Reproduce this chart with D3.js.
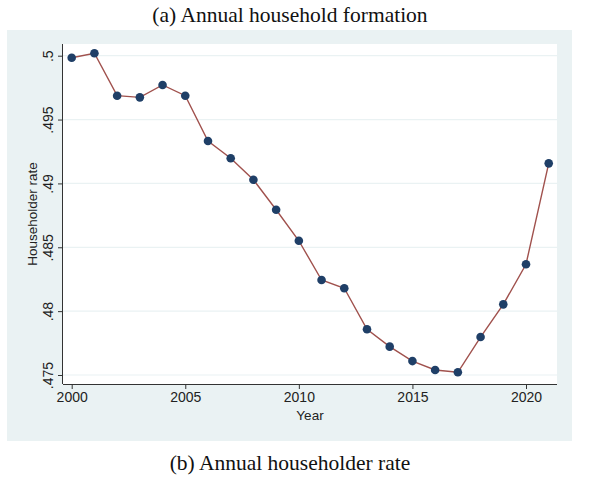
<!DOCTYPE html>
<html>
<head>
<meta charset="utf-8">
<script src="https://cdn.jsdelivr.net/npm/d3@7"></script>
<style>
  body { margin: 0; background: #fff; }
</style>
</head>
<body>
<div id="container"></div>
<script>
// years and householder rate
const years = [2000, 2001, 2002, 2003, 2004, 2005, 2006, 2007, 2008, 2009, 2010,
  2011, 2012, 2013, 2014, 2015, 2016, 2017, 2018, 2019, 2020, 2021];
const rates = [0.49984, 0.50019, 0.49687, 0.49674, 0.49771, 0.49687, 0.49332, 0.49197,
  0.49029, 0.48794, 0.48551, 0.48244, 0.48179, 0.47858, 0.47722, 0.47609, 0.47539,
  0.47521, 0.47797, 0.48053, 0.48367, 0.49157];
const xTicks = [2000, 2005, 2010, 2015, 2020];
const yTicks = [0.475, 0.48, 0.485, 0.49, 0.495, 0.5];

const w = 600;
const h = 484;

const svg = d3.select("#container")
  .append("svg")
  .attr("width", w)
  .attr("height", h);

// graph region (light background) and plot region (white)
svg.append("rect")
  .attr("x", 7).attr("y", 30)
  .attr("width", 565).attr("height", 411)
  .attr("fill", "#eaf2f3");

svg.append("rect")
  .attr("x", 63).attr("y", 44)
  .attr("width", 494).attr("height", 340)
  .attr("fill", "#ffffff");

const xScale = d3.scaleLinear()
  .domain([2000, 2020])
  .range([71.7, 526]);

const yScale = d3.scaleLinear()
  .domain([0.475, 0.5])
  .range([375, 55.7]);

// grid lines
svg.append("g")
  .selectAll("line")
  .data(yTicks)
  .enter()
  .append("line")
  .attr("x1", 63).attr("x2", 557)
  .attr("y1", d => yScale(d)).attr("y2", d => yScale(d))
  .attr("stroke", "#eaf2f3")
  .attr("stroke-width", 1.2);

const fmt = d => d3.format(".3~f")(d).replace(/^0/, "");

const xAxis = d3.axisBottom(xScale)
  .tickValues(xTicks)
  .tickSize(5)
  .tickPadding(3)
  .tickFormat(d3.format("d"));

const yAxis = d3.axisLeft(yScale)
  .tickValues(yTicks)
  .tickSize(5)
  .tickPadding(3)
  .tickFormat(fmt);

const gx = svg.append("g")
  .attr("id", "x-axis")
  .attr("transform", "translate(0, 384)")
  .call(xAxis);

const gy = svg.append("g")
  .attr("id", "y-axis")
  .attr("transform", "translate(63, 0)")
  .call(yAxis);

// stretch axis lines over the whole plot region, drop the end caps
gx.select(".domain").attr("d", "M63,0.5H557");
gy.select(".domain").attr("d", "M-0.5,44V384");

[gx, gy].forEach(g => {
  g.selectAll(".domain, .tick line").attr("stroke", "#333").attr("stroke-width", 1);
  g.selectAll("text")
    .attr("fill", "#222")
    .style("font-family", "Liberation Sans, Arial, sans-serif")
    .style("font-size", "14px");
});

gy.selectAll(".tick text")
  .attr("transform", "rotate(-90)")
  .attr("x", 0)
  .attr("y", -10)
  .attr("dy", "0")
  .attr("text-anchor", "middle");

// axis titles
svg.append("text")
  .attr("x", 310).attr("y", 420)
  .attr("text-anchor", "middle")
  .style("font-family", "Liberation Sans, Arial, sans-serif")
  .style("font-size", "13.5px")
  .attr("fill", "#222")
  .text("Year");

svg.append("text")
  .attr("transform", "translate(37, 214) rotate(-90)")
  .attr("text-anchor", "middle")
  .style("font-family", "Liberation Sans, Arial, sans-serif")
  .style("font-size", "13.5px")
  .attr("fill", "#222")
  .text("Householder rate");

// connected line and markers
const line = d3.line()
  .x((d, i) => xScale(years[i]))
  .y(d => yScale(d));

svg.append("path")
  .datum(rates)
  .attr("d", line)
  .attr("fill", "none")
  .attr("stroke", "#a0514d")
  .attr("stroke-width", 1.4);

svg.append("g")
  .selectAll("circle")
  .data(rates)
  .enter()
  .append("circle")
  .attr("cx", (d, i) => xScale(years[i]))
  .attr("cy", d => yScale(d))
  .attr("r", 4.3)
  .attr("fill", "#1f3f67");

// captions
svg.append("text")
  .attr("x", 290).attr("y", 22)
  .attr("text-anchor", "middle")
  .style("font-family", "Liberation Serif, Times New Roman, serif")
  .style("font-size", "21.5px")
  .attr("fill", "#111")
  .text("(a) Annual household formation");

svg.append("text")
  .attr("x", 290).attr("y", 470)
  .attr("text-anchor", "middle")
  .style("font-family", "Liberation Serif, Times New Roman, serif")
  .style("font-size", "21.5px")
  .attr("fill", "#111")
  .text("(b) Annual householder rate");
</script>
</body>
</html>
